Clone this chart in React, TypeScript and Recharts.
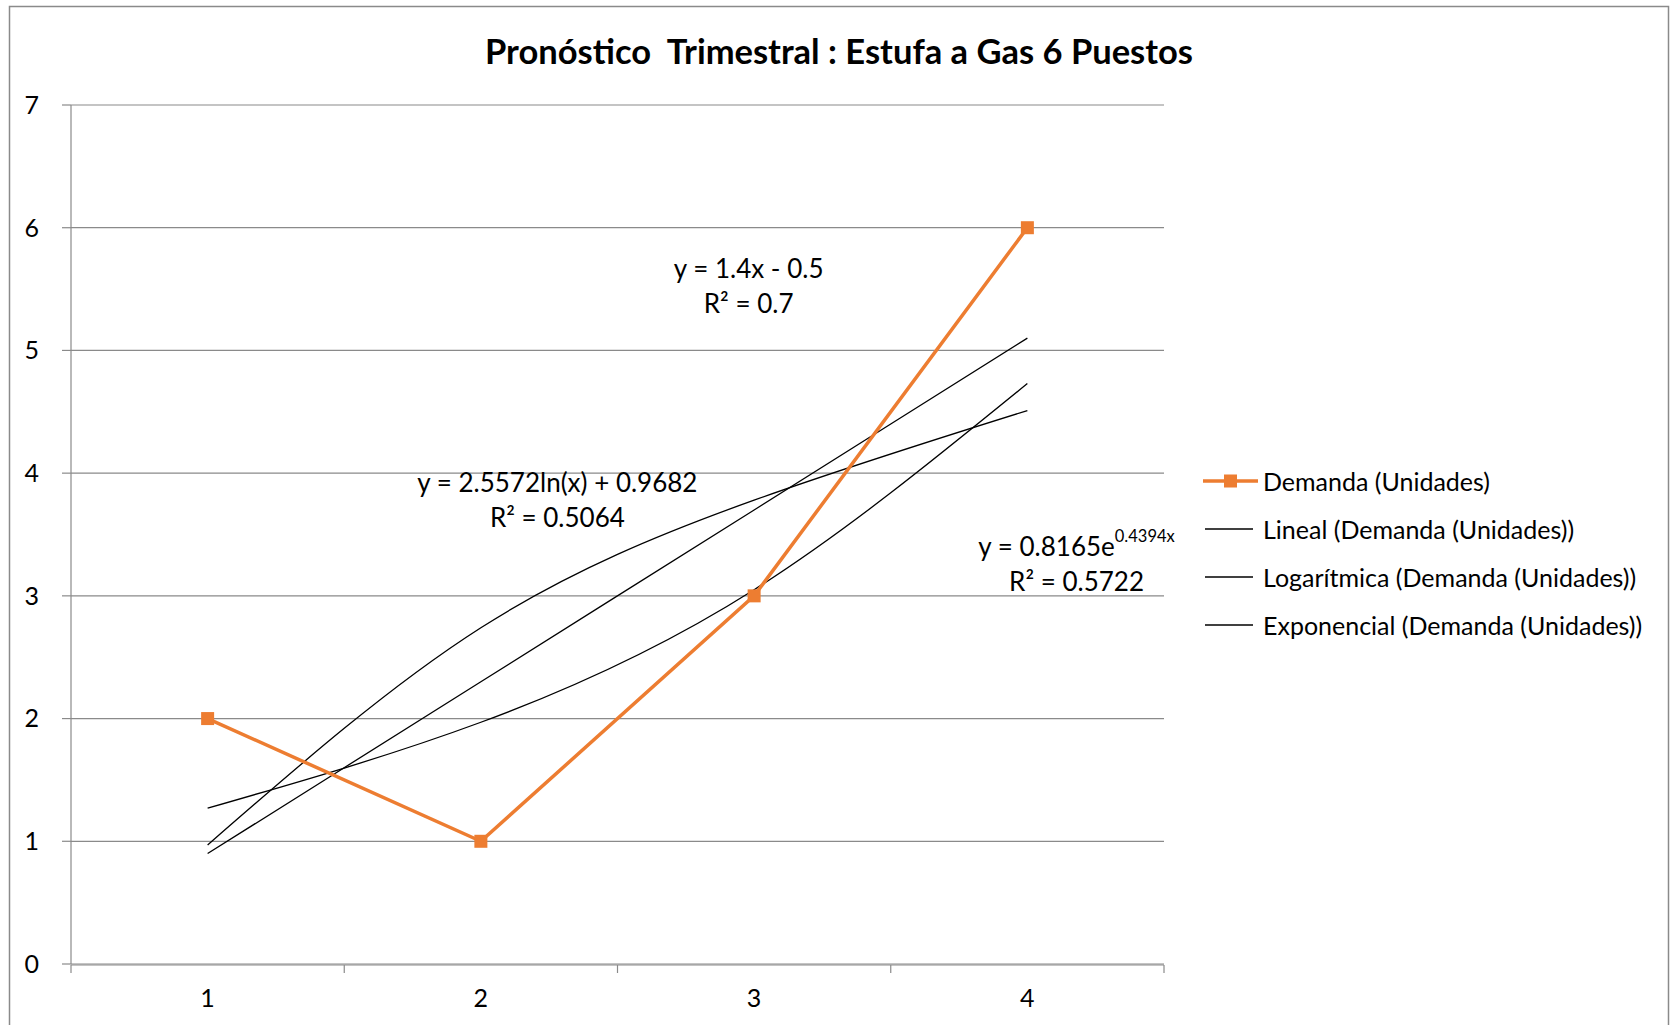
import * as React from 'react';
import { CartesianGrid, Line, LineChart, XAxis, YAxis, usePlotArea } from 'recharts';

// Demanda trimestral y líneas de tendencia
const periodos = [1, 2, 3, 4];
const demanda = [2, 1, 3, 6];
const lineal = [0.9, 2.3, 3.7, 5.1];
const logaritmica = [0.97, 2.74, 3.78, 4.51];
const exponencial = [1.27, 1.97, 3.05, 4.73];
const yTicks = [0, 1, 2, 3, 4, 5, 6, 7];
const xLimites = [0.5, 1.5, 2.5, 3.5, 4.5];

const TITLE = 'Pronóstico  Trimestral : Estufa a Gas 6 Puestos';
const FONT = "Lato, 'Open Sans', sans-serif";
const ORANGE = '#ED7D31';
const GRID = '#8a8a8a';
const X_DOMAIN: [number, number] = [0.5, 4.5];
const Y_DOMAIN: [number, number] = [0, 7];
const FS = 25;

const data = periodos.map((p, i) => ({
  periodo: p,
  demanda: demanda[i],
  lineal: lineal[i],
  logaritmica: logaritmica[i],
  exponencial: exponencial[i],
}));

const legendItems = [
  { label: 'Demanda (Unidades)', marker: true },
  { label: 'Lineal (Demanda (Unidades))', marker: false },
  { label: 'Logarítmica (Demanda (Unidades))', marker: false },
  { label: 'Exponencial (Demanda (Unidades))', marker: false },
];

// equation labels, anchored in data units (center of first line)
const ecuaciones = [
  { x: 2.98, y: 5.67, main: 'y = 1.4x - 0.5', sup: null as string | null, r2: 'R² = 0.7' },
  { x: 2.28, y: 3.93, main: 'y = 2.5572ln(x) + 0.9682', sup: null, r2: 'R² = 0.5064' },
  { x: 4.18, y: 3.41, main: 'y = 0.8165e', sup: '0.4394x', r2: 'R² = 0.5722' },
];

function SquareDot(props: any) {
  const { cx, cy, index } = props;
  if (cx == null || cy == null) return null;
  return <rect key={`sq-${index}`} x={cx - 6.5} y={cy - 6.5} width={13} height={13} fill={ORANGE} />;
}

function Decorations() {
  const plot = usePlotArea();
  if (!plot) return null;
  const toX = (v: number) => plot.x + ((v - X_DOMAIN[0]) / (X_DOMAIN[1] - X_DOMAIN[0])) * plot.width;
  const toY = (v: number) => plot.y + plot.height - ((v - Y_DOMAIN[0]) / (Y_DOMAIN[1] - Y_DOMAIN[0])) * plot.height;

  const legendX = 1203;
  const legendY = 481;
  const rowGap = 48;

  return (
    <g fontFamily={FONT}>
      <rect x={9.5} y={6.5} width={1659} height={1040} fill="none" stroke={GRID} strokeWidth={1.5} />
      <text
        x={839}
        y={50}
        textAnchor="middle"
        dominantBaseline="central"
        fontSize={34.5}
        fontWeight={700}
        fill="#000"
        style={{ whiteSpace: 'pre' }}
      >
        {TITLE}
      </text>
      {ecuaciones.map((e) => (
        <g key={e.main} fontSize={26} fill="#000">
          <text x={toX(e.x)} y={toY(e.y)} textAnchor="middle" dominantBaseline="central">
            {e.main}
            {e.sup ? (
              <tspan fontSize={16.5} dy={-10}>
                {e.sup}
              </tspan>
            ) : null}
          </text>
          <text x={toX(e.x)} y={toY(e.y) + 35} textAnchor="middle" dominantBaseline="central">
            {e.r2}
          </text>
        </g>
      ))}
      {legendItems.map((item, i) => {
        const y = legendY + i * rowGap;
        return (
          <g key={item.label}>
            {item.marker ? (
              <>
                <line x1={legendX} y1={y} x2={legendX + 55} y2={y} stroke={ORANGE} strokeWidth={3.5} />
                <rect x={legendX + 21} y={y - 6.5} width={13} height={13} fill={ORANGE} />
              </>
            ) : (
              <line x1={legendX + 2} y1={y} x2={legendX + 50} y2={y} stroke="#000" strokeWidth={1.3} />
            )}
            <text x={legendX + 60} y={y} dominantBaseline="central" fontSize={FS} fill="#000">
              {item.label}
            </text>
          </g>
        );
      })}
    </g>
  );
}

export default function App() {
  const tickStyle = { fill: '#000', fontSize: FS, fontFamily: FONT };
  return (
    <div style={{ position: 'absolute', left: 0, top: 0, width: 1670, height: 1025, background: '#fff' }}>
      <LineChart width={1670} height={1025} data={data} margin={{ top: 105, right: 506, bottom: 59, left: 11 }}>
        <CartesianGrid xAxisId="marks" vertical={false} stroke={GRID} strokeWidth={1.2} />
        <XAxis
          xAxisId="marks"
          type="number"
          dataKey="periodo"
          domain={X_DOMAIN}
          ticks={xLimites}
          interval={0}
          tickFormatter={() => ''}
          tickSize={8}
          height={1}
          stroke={GRID}
          strokeWidth={1.2}
        />
        <XAxis
          xAxisId="labels"
          type="number"
          dataKey="periodo"
          domain={X_DOMAIN}
          ticks={periodos}
          interval={0}
          axisLine={false}
          tickLine={false}
          tickSize={0}
          tickMargin={25}
          height={1}
          tick={tickStyle}
        />
        <YAxis
          type="number"
          domain={Y_DOMAIN}
          ticks={yTicks}
          interval={0}
          width={60}
          tickSize={9}
          tickMargin={23}
          stroke={GRID}
          strokeWidth={1.2}
          tick={tickStyle}
        />
        <Line
          xAxisId="marks"
          type="natural"
          dataKey="lineal"
          stroke="#000"
          strokeWidth={1.3}
          dot={false}
          activeDot={false}
          isAnimationActive={false}
        />
        <Line
          xAxisId="marks"
          type="natural"
          dataKey="logaritmica"
          stroke="#000"
          strokeWidth={1.3}
          dot={false}
          activeDot={false}
          isAnimationActive={false}
        />
        <Line
          xAxisId="marks"
          type="natural"
          dataKey="exponencial"
          stroke="#000"
          strokeWidth={1.3}
          dot={false}
          activeDot={false}
          isAnimationActive={false}
        />
        <Line
          xAxisId="marks"
          type="linear"
          dataKey="demanda"
          stroke={ORANGE}
          strokeWidth={3.5}
          dot={SquareDot}
          activeDot={false}
          isAnimationActive={false}
        />
        <Decorations />
      </LineChart>
    </div>
  );
}
